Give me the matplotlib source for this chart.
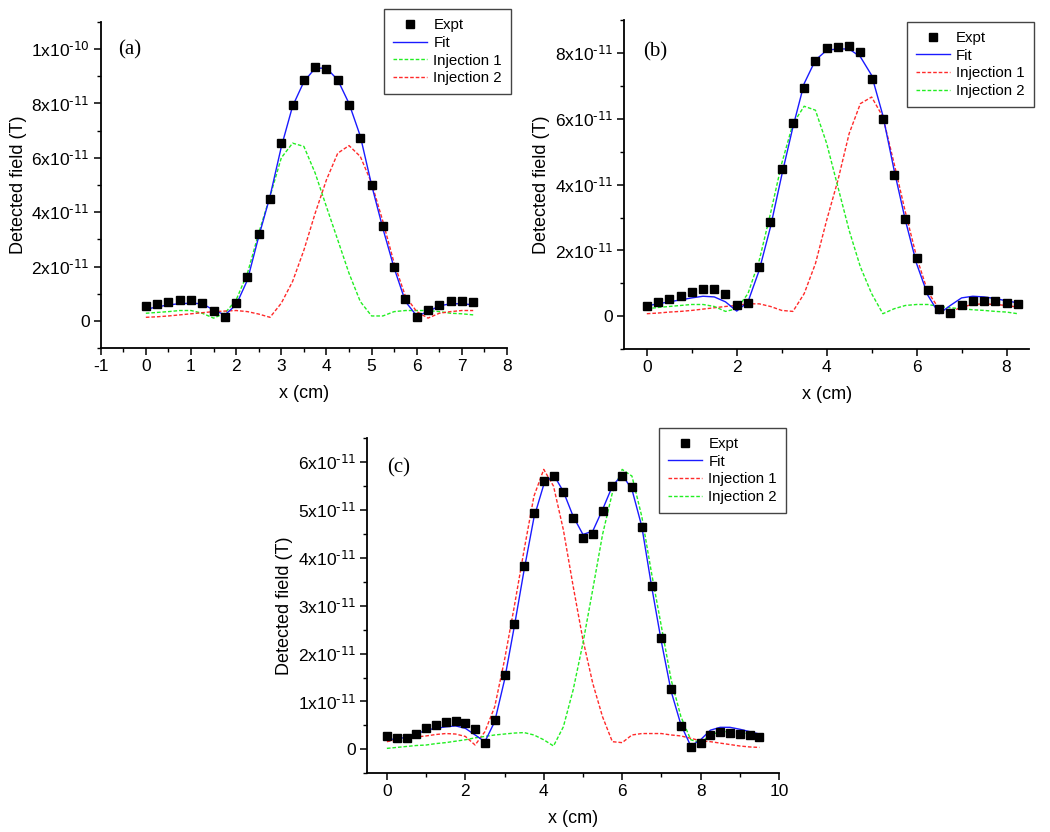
import numpy as np
import matplotlib
matplotlib.use("Agg")
import matplotlib.pyplot as plt
from matplotlib.ticker import MultipleLocator, FixedLocator, FuncFormatter

plt.rcParams['font.family'] = ['Liberation Sans', 'DejaVu Sans']
plt.rcParams['mathtext.default'] = 'regular'
plt.rcParams['axes.unicode_minus'] = False

U = 1e-11  # values below are in units of 1e-11 T

# ---------------- Panel (a) ----------------
a_x = [0, 0.25, 0.5, 0.75, 1.0, 1.25, 1.5, 1.75, 2.0, 2.25, 2.5, 2.75, 3.0, 3.25, 3.5,
       3.75, 4.0, 4.25, 4.5, 4.75, 5.0, 5.25, 5.5, 5.75, 6.0, 6.25, 6.5, 6.75, 7.0, 7.25]
a_expt = [0.55, 0.63, 0.69, 0.75, 0.75, 0.64, 0.38, 0.16, 0.65, 1.62, 3.19, 4.48, 6.54, 7.96, 8.87,
          9.35, 9.28, 8.87, 7.96, 6.74, 4.99, 3.48, 2.0, 0.80, 0.16, 0.40, 0.60, 0.72, 0.72, 0.71]
a_fit = [0.43, 0.51, 0.59, 0.63, 0.65, 0.63, 0.40, 0.22, 0.59, 1.5, 3.1, 4.58, 6.4, 7.9, 8.8,
         9.3, 9.3, 8.87, 8.0, 6.8, 5.0, 3.4, 1.94, 0.71, 0.18, 0.34, 0.55, 0.63, 0.63, 0.59]
a_inj1 = [0.28, 0.31, 0.34, 0.38, 0.38, 0.28, 0.10, 0.28, 0.77, 1.75, 3.23, 4.58, 6.0, 6.54, 6.42,
          5.44, 4.2, 2.98, 1.75, 0.71, 0.18, 0.18, 0.34, 0.38, 0.38, 0.38, 0.34, 0.28, 0.26, 0.22]
a_inj2 = [0.13, 0.15, 0.18, 0.22, 0.26, 0.30, 0.34, 0.36, 0.38, 0.34, 0.25, 0.13, 0.65, 1.45, 2.6,
          3.96, 5.19, 6.17, 6.45, 6.05, 5.07, 3.66, 2.12, 0.9, 0.34, 0.10, 0.28, 0.34, 0.38, 0.38]

# ---------------- Panel (b) ----------------
b_x = [0, 0.25, 0.5, 0.75, 1.0, 1.25, 1.5, 1.75, 2.0, 2.25, 2.5, 2.75, 3.0, 3.25, 3.5, 3.75,
       4.0, 4.25, 4.5, 4.75, 5.0, 5.25, 5.5, 5.75, 6.0, 6.25, 6.5, 6.75, 7.0, 7.25, 7.5, 7.75, 8.0, 8.25]
b_expt = [0.32, 0.43, 0.53, 0.63, 0.73, 0.83, 0.83, 0.69, 0.35, 0.41, 1.50, 2.86, 4.47, 5.86, 6.94, 7.76,
          8.15, 8.19, 8.22, 8.02, 7.2, 6.0, 4.30, 2.96, 1.77, 0.81, 0.23, 0.11, 0.33, 0.46, 0.48, 0.47, 0.42, 0.37]
b_fit = [0.32, 0.38, 0.44, 0.50, 0.56, 0.61, 0.59, 0.44, 0.16, 0.44, 1.4, 2.71, 4.28, 5.75, 7.07, 7.78,
         8.08, 8.12, 8.12, 7.88, 7.32, 6.1, 4.44, 2.92, 1.6, 0.64, 0.08, 0.33, 0.56, 0.61, 0.59, 0.54, 0.47, 0.41]
b_inj1 = [0.08, 0.10, 0.13, 0.15, 0.18, 0.22, 0.26, 0.30, 0.33, 0.38, 0.38, 0.30, 0.18, 0.15, 0.69, 1.6,
          2.92, 4.13, 5.55, 6.46, 6.66, 6.06, 4.64, 3.17, 1.8, 0.74, 0.23, 0.13, 0.28, 0.36, 0.38, 0.36, 0.33, 0.28]
b_inj2 = [0.23, 0.27, 0.30, 0.33, 0.36, 0.36, 0.30, 0.15, 0.23, 0.69, 1.7, 3.12, 4.64, 5.85, 6.38, 6.26,
          5.25, 3.93, 2.61, 1.5, 0.69, 0.08, 0.23, 0.33, 0.36, 0.36, 0.30, 0.26, 0.23, 0.20, 0.18, 0.15, 0.13, 0.08]

# ---------------- Panel (c) ----------------
c_x = [0, 0.25, 0.5, 0.75, 1.0, 1.25, 1.5, 1.75, 2.0, 2.25, 2.5, 2.75, 3.0, 3.25, 3.5, 3.75, 4.0,
       4.25, 4.5, 4.75, 5.0, 5.25, 5.5, 5.75, 6.0, 6.25, 6.5, 6.75, 7.0, 7.25, 7.5, 7.75, 8.0,
       8.25, 8.5, 8.75, 9.0, 9.25, 9.5]
c_expt = [0.28, 0.24, 0.23, 0.33, 0.44, 0.51, 0.58, 0.60, 0.56, 0.42, 0.13, 0.61, 1.56, 2.62, 3.84, 4.93, 5.60,
          5.71, 5.37, 4.84, 4.42, 4.50, 4.98, 5.50, 5.72, 5.48, 4.64, 3.41, 2.32, 1.26, 0.49, 0.04, 0.14,
          0.31, 0.37, 0.35, 0.32, 0.30, 0.25]
c_fit = [0.20, 0.22, 0.25, 0.32, 0.40, 0.44, 0.47, 0.49, 0.44, 0.30, 0.16, 0.58, 1.45, 2.57, 3.75, 4.84, 5.53,
         5.74, 5.39, 4.87, 4.49, 4.56, 5.01, 5.50, 5.74, 5.43, 4.66, 3.41, 2.25, 1.21, 0.51, 0.07, 0.20,
         0.40, 0.46, 0.46, 0.42, 0.37, 0.32]
c_inj1 = [0.16, 0.20, 0.23, 0.26, 0.28, 0.31, 0.33, 0.32, 0.27, 0.09, 0.37, 0.89, 1.87, 2.99, 4.17, 5.29, 5.85,
          5.50, 4.59, 3.41, 2.29, 1.38, 0.68, 0.16, 0.14, 0.30, 0.33, 0.33, 0.33, 0.30, 0.28, 0.23, 0.18,
          0.16, 0.13, 0.10, 0.07, 0.05, 0.04]
c_inj2 = [0.02, 0.04, 0.06, 0.08, 0.09, 0.12, 0.14, 0.17, 0.20, 0.24, 0.27, 0.30, 0.32, 0.34, 0.35, 0.30, 0.20,
          0.07, 0.47, 1.24, 2.22, 3.34, 4.49, 5.36, 5.85, 5.71, 4.87, 3.68, 2.57, 1.45, 0.68, 0.20, 0.14,
          0.30, 0.37, 0.37, 0.35, 0.32, 0.28]

# tick values
a_xticks = [-1, 0, 1, 2, 3, 4, 5, 6, 7, 8]
a_yticks = [0, 2, 4, 6, 8, 10]
b_xticks = [0, 2, 4, 6, 8]
b_yticks = [0, 2, 4, 6, 8]
c_xticks = [0, 2, 4, 6, 8, 10]
c_yticks = [0, 1, 2, 3, 4, 5, 6]

BLUE = '#1a1aff'
GREEN = '#22ee22'
RED = '#ff2a2a'
DASH = (0, (2.6, 1.4))


def fmt(v, pos):
    if abs(v) < 1e-15:
        return '0'
    e = int(np.floor(np.log10(abs(v)) + 1e-9))
    m = v / 10.0 ** e
    return '%dx10$^{\\text{%d}}$' % (round(m), e)


fig = plt.figure(figsize=(10.5, 8.32), dpi=100)


def panel(rect, x, expt, fit, inj1, inj2, c1, c2, xlim, ylim, xticks, xmin, yticks, ymin,
          tag, tagpos, legpos):
    ax = fig.add_axes(rect)
    xa = np.array(x)
    ax.plot(xa, np.array(expt) * U, 's', color='black', ms=5.2, label='Expt', zorder=5)
    ax.plot(xa, np.array(fit) * U, '-', color=BLUE, lw=1.0, label='Fit', zorder=4)
    ax.plot(xa, np.array(inj1) * U, linestyle=DASH, color=c1, lw=1.0, label='Injection 1', zorder=3)
    ax.plot(xa, np.array(inj2) * U, linestyle=DASH, color=c2, lw=1.0, label='Injection 2', zorder=3)
    ax.set_xlim(*xlim)
    ax.set_ylim(ylim[0] * U, ylim[1] * U)
    ax.xaxis.set_major_locator(FixedLocator(xticks))
    ax.xaxis.set_minor_locator(MultipleLocator(xmin))
    ax.yaxis.set_major_locator(FixedLocator([t * U for t in yticks]))
    ax.yaxis.set_minor_locator(MultipleLocator(ymin * U))
    ax.yaxis.set_major_formatter(FuncFormatter(fmt))
    ax.xaxis.set_major_formatter(FuncFormatter(lambda v, p: '%g' % v))
    for s in ['top', 'right']:
        ax.spines[s].set_visible(False)
    for s in ['left', 'bottom']:
        ax.spines[s].set_linewidth(1.3)
    ax.tick_params(which='major', direction='out', length=5, width=1.1, labelsize=12.5, pad=3)
    ax.tick_params(which='minor', direction='out', length=3, width=1.0)
    ax.set_xlabel('x (cm)', fontsize=13, labelpad=8)
    ax.set_ylabel('Detected field (T)', fontsize=13, labelpad=3)
    ax.text(tagpos[0], tagpos[1], tag, transform=ax.transAxes, family='Liberation Serif',
            fontsize=15, va='center', ha='left')
    leg = ax.legend(loc='upper left', bbox_to_anchor=legpos, bbox_transform=fig.transFigure,
                    borderaxespad=0, fancybox=False, framealpha=1, edgecolor='#444444',
                    fontsize=10.8, handlelength=2.3, handletextpad=0.4, labelspacing=0.25,
                    borderpad=0.6)
    leg.get_frame().set_linewidth(1.0)
    return ax


ax_a = panel([0.0959, 0.5817, 0.387, 0.3919], a_x, a_expt, a_fit, a_inj1, a_inj2, GREEN, RED,
             (-1, 8), (-1, 11), a_xticks, 0.5, a_yticks, 1, '(a)', (0.043, 0.914), (0.3657, 0.989))
ax_b = panel([0.5946, 0.5802, 0.3854, 0.3958], b_x, b_expt, b_fit, b_inj1, b_inj2, RED, GREEN,
             (-0.5, 8.5), (-1, 9), b_xticks, 1, b_yticks, 1, '(b)', (0.046, 0.903), (0.8635, 0.9736))
ax_c = panel([0.3498, 0.0706, 0.3921, 0.4026], c_x, c_expt, c_fit, c_inj1, c_inj2, RED, GREEN,
             (-0.5, 10), (-0.5, 6.5), c_xticks, 1, c_yticks, 0.5, '(c)', (0.048, 0.911), (0.6276, 0.4856))

fig.savefig('out.png', dpi=100)
